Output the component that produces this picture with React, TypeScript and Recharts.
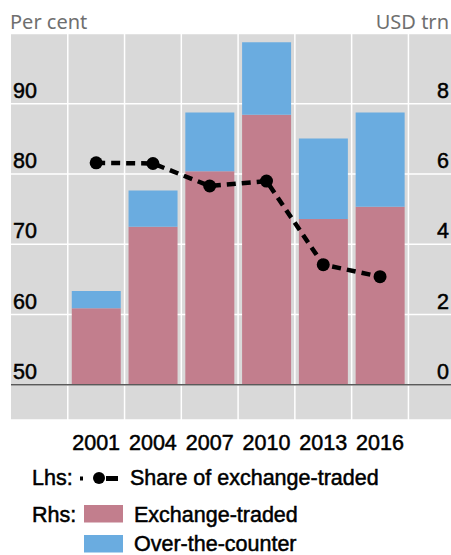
import React from 'react';
import { ComposedChart, Bar, Line, XAxis, YAxis, CartesianGrid, ReferenceLine } from 'recharts';

const years = ['2001', '2004', '2007', '2010', '2013', '2016'];
const exchangeTraded = [2.18, 4.5, 6.08, 7.69, 4.72, 5.07];
const overTheCounter = [0.49, 1.03, 1.67, 2.06, 2.29, 2.68];
const shareExchange = [81.6, 81.5, 78.3, 79.0, 67.1, 65.4];
const leftTicks = [50, 60, 70, 80, 90];
const rightTicks = [0, 2, 4, 6, 8, 10];

const PINK = '#C27E8D';
const BLUE = '#6AACE0';
const GRAY = '#D9D9D9';
const FONT = '"Liberation Sans", Arial, sans-serif';
const FS = 21.5;

const data = years.map((y, i) => ({
  idx: i,
  year: y,
  exchange: exchangeTraded[i],
  otc: overTheCounter[i],
  share: shareExchange[i],
}));
const boundaries = years.map((_, i) => i - 0.5).concat([years.length - 0.5]);

const YTick = (props: any) => {
  const { x, y, payload, textAnchor } = props;
  if (payload.value === 10) return <g />;
  return (
    <text x={x} y={y - 6} textAnchor={textAnchor} fontFamily={FONT} fontSize={FS} fill="#000" stroke="#000" strokeWidth={0.5}>
      {payload.value}
    </text>
  );
};

const XTick = (props: any) => {
  const { x, y, payload } = props;
  return (
    <text x={x} y={y + 30} textAnchor="middle" fontFamily={FONT} fontSize={FS} fill="#000" stroke="#000" strokeWidth={0.5}>
      {years[payload.value]}
    </text>
  );
};

export default function App() {
  return (
    <div style={{ position: 'absolute', left: 0, top: 0, width: 451, height: 555, background: '#fff' }}>
      <ComposedChart
        width={451}
        height={555}
        data={data}
        margin={{ top: 33.5, right: 0, bottom: 100, left: 11 }}
      >
        <CartesianGrid yAxisId="right" vertical={false} fill={GRAY} fillOpacity={1} stroke="#fff" strokeWidth={1.5} />
        <XAxis
          type="number"
          dataKey="idx"
          domain={[-1.5, 6.25]}
          ticks={years.map((_, i) => i)}
          allowDataOverflow
          height={35}
          axisLine={false}
          tickLine={false}
          tickSize={0}
          tickMargin={0}
          tick={<XTick />}
          interval={0}
        />
        <YAxis
          yAxisId="left"
          orientation="left"
          mirror
          domain={[45, 100]}
          ticks={leftTicks}
          allowDataOverflow
          axisLine={false}
          tickLine={false}
          tickSize={0}
          tickMargin={2}
          tick={<YTick />}
          interval={0}
        />
        <YAxis
          yAxisId="right"
          orientation="right"
          mirror
          domain={[-1, 10]}
          ticks={rightTicks}
          allowDataOverflow
          axisLine={false}
          tickLine={false}
          tickSize={0}
          tickMargin={2}
          tick={<YTick />}
          interval={0}
        />
        {boundaries.map((b) => (
          <ReferenceLine key={b} x={b} yAxisId="right" stroke="#fff" strokeWidth={1.5} />
        ))}
        <Bar yAxisId="right" dataKey="exchange" stackId="a" fill={PINK} barSize={49} isAnimationActive={false} />
        <Bar yAxisId="right" dataKey="otc" stackId="a" fill={BLUE} barSize={49} isAnimationActive={false} />
        <ReferenceLine y={0} yAxisId="right" stroke="#5a5a5a" strokeWidth={1.5} />
        <Line
          yAxisId="left"
          dataKey="share"
          stroke="#000"
          strokeWidth={4.5}
          strokeDasharray="9 6"
          dot={{ r: 6.5, fill: '#000', stroke: '#000', strokeWidth: 0, strokeDasharray: '0' }}
          isAnimationActive={false}
        />
      </ComposedChart>
      <svg
        width={451}
        height={555}
        style={{ position: 'absolute', left: 0, top: 0, pointerEvents: 'none' }}
      >
        <text x={10} y={29} fontFamily='"Noto Sans", "Open Sans", sans-serif' fontSize={20} fill="#6f6f6f">
          Per cent
        </text>
        <text x={449} y={29} textAnchor="end" fontFamily='"Noto Sans", "Open Sans", sans-serif' fontSize={20} fill="#6f6f6f">
          USD trn
        </text>
        <g fontFamily={FONT} fontSize={FS} fill="#000" stroke="#000" strokeWidth={0.5}>
          <text x={32} y={485}>Lhs:</text>
          <rect x={80} y={476.5} width={3} height={4} fill="#000" stroke="none" />
          <circle cx={99} cy={478} r={6} fill="#000" stroke="none" />
          <rect x={106} y={476} width={12} height={5} fill="#000" stroke="none" />
          <text x={130} y={485}>Share of exchange-traded</text>
          <text x={32} y={522}>Rhs:</text>
          <rect x={84} y={505} width={39} height={17.5} fill={PINK} stroke="none" />
          <text x={134} y={522}>Exchange-traded</text>
          <rect x={84} y={535} width={39} height={17.5} fill={BLUE} stroke="none" />
          <text x={134} y={551}>Over-the-counter</text>
        </g>
      </svg>
    </div>
  );
}
